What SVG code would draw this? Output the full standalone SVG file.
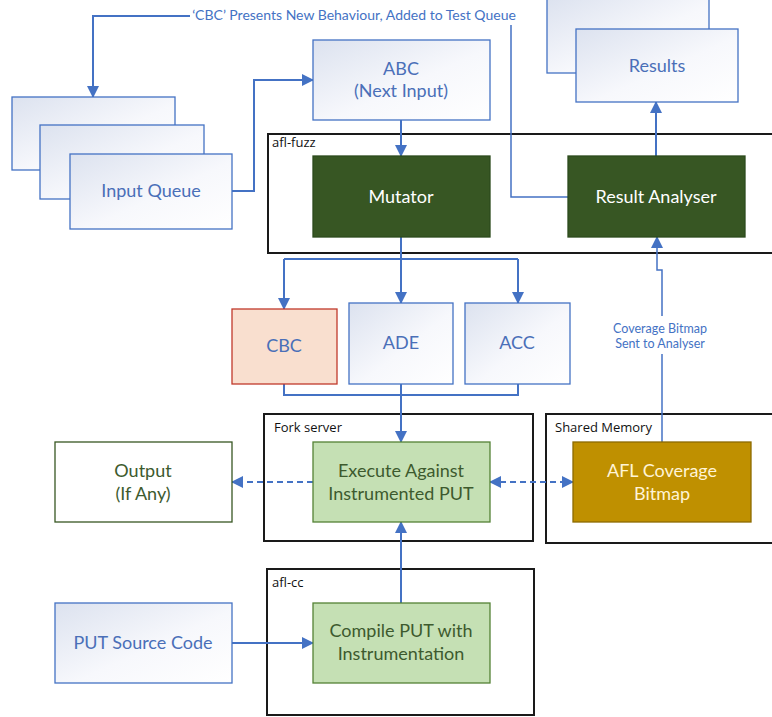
<svg xmlns="http://www.w3.org/2000/svg" width="772" height="717" viewBox="0 0 772 717">
<defs>
  <linearGradient id="blueGrad" x1="0" y1="0" x2="1" y2="1">
    <stop offset="0" stop-color="#dce2ef"/>
    <stop offset="0.55" stop-color="#f7f8fc"/>
    <stop offset="1" stop-color="#ffffff"/>
  </linearGradient>
  <marker id="arr" markerUnits="userSpaceOnUse" markerWidth="12" markerHeight="12" viewBox="0 0 12 12" refX="11" refY="6" orient="auto-start-reverse">
    <path d="M0,0 L12,6 L0,12 Z" fill="#4472c4"/>
  </marker>
  <style>
    .t { font-family: Lato, "Open Sans", "Liberation Sans", sans-serif; font-size: 18px; text-anchor: middle; }
    .blue { fill: url(#blueGrad); stroke: #4472c4; stroke-width: 1.3; }
    .bt { fill: #4a6fb8; }
    .cont { fill: #ffffff; stroke: #1a1a1a; stroke-width: 2; }
    .cl { font-family: "Open Sans", "Liberation Sans", sans-serif; font-size: 13px; fill: #111; }
    .dark { fill: #375623; stroke: #2c4a1c; stroke-width: 1.3; }
    .lg { fill: #c5e0b4; stroke: #548235; stroke-width: 1.3; }
    .gt { fill: #3d5a2e; }
    .c { fill: none; stroke: #4472c4; stroke-width: 2; }
    .thin { fill: none; stroke: #4472c4; stroke-width: 1.5; }
    .dash { stroke-dasharray: 6 4; }
    .lab { font-family: Lato, "Open Sans", "Liberation Sans", sans-serif; fill: #4472c4; text-anchor: middle; }
    .top { font-size: 14px; }
    .cov { font-size: 12.5px; }
  </style>
</defs>
<rect width="772" height="717" fill="#ffffff"/>

<!-- containers -->
<g id="afl-fuzz">
  <rect class="cont" x="268" y="134" width="510" height="119"/>
  <text class="cl" x="272" y="147">afl-fuzz</text>
</g>
<g id="fork-server">
  <rect class="cont" x="264" y="414" width="269" height="127"/>
  <text class="cl" x="274" y="432">Fork server</text>
</g>
<g id="shared-memory">
  <rect class="cont" x="546" y="414" width="232" height="129"/>
  <text class="cl" x="555" y="432">Shared Memory</text>
</g>
<g id="afl-cc">
  <rect class="cont" x="267" y="569" width="267" height="146"/>
  <text class="cl" x="272" y="587">afl-cc</text>
</g>

<!-- connectors -->
<g id="connectors">
  <path class="thin" d="M568,197 H511 V25"/>
  <text class="lab top" x="354" y="20">‘CBC’ Presents New Behaviour, Added to Test Queue</text>
  <path class="c" d="M190,16 H93 V97" marker-end="url(#arr)"/>
  <path class="c" d="M232,191 H254 V80 H313" marker-end="url(#arr)"/>
  <path class="c" d="M401,120 V156" marker-end="url(#arr)"/>
  <path class="c" d="M401,237 V303" marker-end="url(#arr)"/>
  <path class="c" d="M284,259 H518"/>
  <path class="c" d="M284,259 V309" marker-end="url(#arr)"/>
  <path class="c" d="M518,259 V303" marker-end="url(#arr)"/>
  <path class="c" d="M284,384 V395 H518 V384"/>
  <path class="c" d="M401,384 V442" marker-end="url(#arr)"/>
  <path class="c dash" d="M313,482 H232" marker-end="url(#arr)"/>
  <path class="c dash" d="M490,482 H573" marker-start="url(#arr)" marker-end="url(#arr)"/>
  <path class="thin" d="M662,442 V354"/>
  <path class="thin" d="M662,316 V270 H657 V237" marker-end="url(#arr)"/>
  <text class="lab cov" x="660" y="333">Coverage Bitmap</text>
  <text class="lab cov" x="660" y="348">Sent to Analyser</text>
  <path class="c" d="M656,156 V102" marker-end="url(#arr)"/>
  <path class="c" d="M232,643 H313" marker-end="url(#arr)"/>
  <path class="c" d="M401,603 V522" marker-end="url(#arr)"/>
</g>

<!-- nodes -->
<g id="input-queue">
  <rect class="blue" x="12" y="97" width="163" height="73"/>
  <rect class="blue" x="40" y="125" width="164" height="74"/>
  <rect class="blue" x="70" y="154" width="162" height="75"/>
  <text class="t bt" x="151" y="197">Input Queue</text>
</g>
<g id="abc">
  <rect class="blue" x="313" y="40" width="177" height="80"/>
  <text class="t bt" x="401" y="75">ABC</text>
  <text class="t bt" x="401" y="97">(Next Input)</text>
</g>
<g id="results">
  <rect class="blue" x="547" y="-2" width="162" height="75"/>
  <rect class="blue" x="576" y="29" width="162" height="73"/>
  <text class="t bt" x="657" y="72">Results</text>
</g>
<g id="mutator">
  <rect class="dark" x="313" y="156" width="177" height="81"/>
  <text class="t" x="401" y="203" fill="#ffffff">Mutator</text>
</g>
<g id="result-analyser">
  <rect class="dark" x="568" y="156" width="177" height="81"/>
  <text class="t" x="656" y="203" fill="#ffffff">Result Analyser</text>
</g>
<g id="cbc">
  <rect x="232" y="309" width="105" height="75" fill="#f9dfcf" stroke="#c0392b" stroke-width="1.3"/>
  <text class="t bt" x="284" y="352">CBC</text>
</g>
<g id="ade">
  <rect class="blue" x="349" y="303" width="104" height="81"/>
  <text class="t bt" x="401" y="349">ADE</text>
</g>
<g id="acc">
  <rect class="blue" x="465" y="303" width="105" height="81"/>
  <text class="t bt" x="517" y="349">ACC</text>
</g>
<g id="output">
  <rect x="55" y="442" width="177" height="80" fill="#ffffff" stroke="#385723" stroke-width="1.3"/>
  <text class="t gt" x="143" y="477">Output</text>
  <text class="t gt" x="143" y="500">(If Any)</text>
</g>
<g id="execute">
  <rect class="lg" x="313" y="442" width="177" height="80"/>
  <text class="t gt" x="401" y="477">Execute Against</text>
  <text class="t gt" x="401" y="500">Instrumented PUT</text>
</g>
<g id="afl-bitmap">
  <rect x="573" y="442" width="178" height="80" fill="#bf9000" stroke="#8c6a00" stroke-width="1.3"/>
  <text class="t" x="662" y="477" fill="#fff4d6">AFL Coverage</text>
  <text class="t" x="662" y="500" fill="#fff4d6">Bitmap</text>
</g>
<g id="put-source">
  <rect class="blue" x="55" y="603" width="177" height="80"/>
  <text class="t bt" x="143" y="649">PUT Source Code</text>
</g>
<g id="compile">
  <rect class="lg" x="313" y="603" width="177" height="80"/>
  <text class="t gt" x="401" y="637">Compile PUT with</text>
  <text class="t gt" x="401" y="660">Instrumentation</text>
</g>
</svg>
